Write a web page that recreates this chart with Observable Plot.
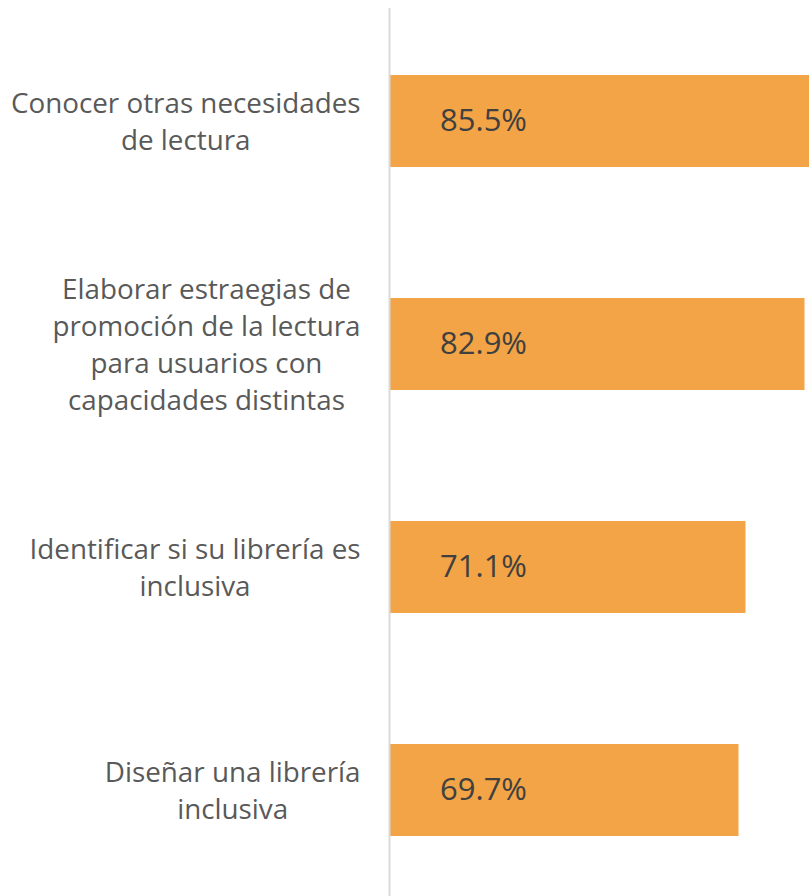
<!DOCTYPE html>
<html>
<head>
<meta charset="utf-8">
<script src="https://cdn.jsdelivr.net/npm/d3@7"></script>
<script src="https://cdn.jsdelivr.net/npm/@observablehq/plot@0.6"></script>
<style>
  html, body { margin: 0; padding: 0; background: #fff; overflow: hidden; }
  #chart svg { overflow: hidden; display: block; }
</style>
</head>
<body>
<div id="chart"></div>
<script>
const categories = [
  "Conocer otras necesidades\nde lectura",
  "Elaborar estraegias de\npromoción de la lectura\npara usuarios con\ncapacidades distintas",
  "Identificar si su librería es\ninclusiva",
  "Diseñar una librería\ninclusiva"
];
const values = [85.5, 82.9, 71.1, 69.7];
const valueLabels = ["85.5%", "82.9%", "71.1%", "69.7%"];

const data = categories.map((c, i) => ({category: c, value: values[i], label: valueLabels[i]}));

const labelSize = 27.8;
const ctx = document.createElement("canvas").getContext("2d");
ctx.font = `${labelSize}px 'Open Sans'`;
const maxLineWidth = c => d3.max(c.split("\n"), l => ctx.measureText(l).width);

const W = 809, H = 896, ML = 390;
const labelMarks = data.map(d => Plot.text([d], {
  y: "category",
  text: "category",
  frameAnchor: "left",
  textAnchor: "middle",
  dx: -(30 + maxLineWidth(d.category) / 2),
  dy: -2,
  lineHeight: 1.33,
  fontFamily: "Open Sans",
  fontSize: labelSize,
  fill: "#595959"
}));

const chart = Plot.plot({
  width: W,
  height: H,
  marginLeft: ML,
  marginRight: 0,
  marginTop: 8,
  marginBottom: -6,
  x: {domain: [0, 83.8], axis: null},
  y: {domain: categories, axis: null, paddingInner: 0.588, paddingOuter: 0.294},
  marks: [
    Plot.barX(data, {y: "category", x: "value", fill: "#f2a446"}),
    Plot.ruleX([0], {stroke: "#d9d9d9", strokeWidth: 2, dx: -1}),
    ...labelMarks,
    Plot.text(data, {
      y: "category",
      text: "label",
      frameAnchor: "left",
      textAnchor: "middle",
      dx: 93,
      fontFamily: "Open Sans",
      fontSize: 31,
      fill: "#404040"
    })
  ]
});
document.getElementById("chart").appendChild(chart);
</script>
</body>
</html>
